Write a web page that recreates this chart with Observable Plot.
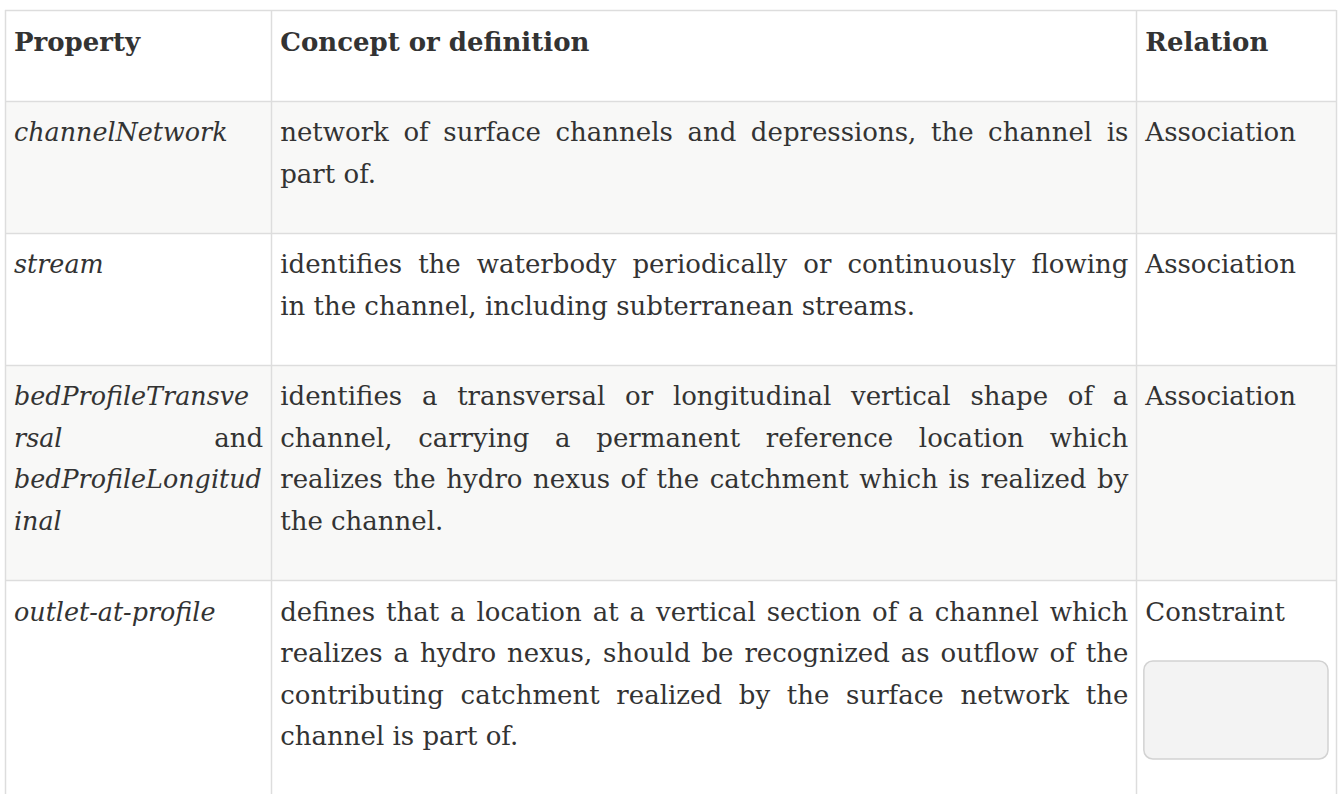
<!DOCTYPE html>
<html>
<head>
<meta charset="utf-8">
<script src="https://cdn.jsdelivr.net/npm/d3@7"></script>
<script src="https://cdn.jsdelivr.net/npm/@observablehq/plot@0.6"></script>
<style>
  html, body { margin: 0; padding: 0; background: #ffffff; overflow: hidden; }
  #chart svg { display: block; }
</style>
</head>
<body>
<div id="chart"></div>
<script>
// ---------- content ----------
const headers = ["Property", "Concept or definition", "Relation"];
const columnShares = [0.2, 0.65, 0.15];
// words wrapped in _..._ are italic; line breaks follow the reference
const properties = [
  ["_channelNetwork_"],
  ["_stream_"],
  ["_bedProfileTransve_", "_rsal_ and", "_bedProfileLongitud_", "_inal_"],
  ["_outlet-at-profile_"]
];
const definitions = [
  ["network of surface channels and depressions, the channel is", "part of."],
  ["identifies the waterbody periodically or continuously flowing", "in the channel, including subterranean streams."],
  ["identifies a transversal or longitudinal vertical shape of a", "channel, carrying a permanent reference location which", "realizes the hydro nexus of the catchment which is realized by", "the channel."],
  ["defines that a location at a vertical section of a channel which", "realizes a hydro nexus, should be recognized as outflow of the", "contributing catchment realized by the surface network the", "channel is part of."]
];
const relations = [["Association"], ["Association"], ["Association"], ["Constraint"]];
const relationPlaceholder = [false, false, false, true];

// ---------- layout ----------
const W = 1338, H = 794;
const X0 = 5, X1 = 1336, Y0 = 10;
const FONT = "DejaVu Serif";
const SIZE = 26, ITALIC_SIZE = 25.4, LINE = 41.6, FIRST = 40, BOTTOM = 50.5, PADL = 8.5, PADR = 8.5;
const INK = "#333333", GRID = "#dddddd", STRIPE = "#f8f8f7";
const sizeOf = style => style === "italic" ? ITALIC_SIZE : SIZE;

const ctx = document.createElement("canvas").getContext("2d");
function measure(text, style, weight) {
  ctx.font = `${style} ${weight} ${sizeOf(style)}px "${FONT}"`;
  return ctx.measureText(text).width;
}

const bounds = [X0];
columnShares.forEach(s => bounds.push(bounds[bounds.length - 1] + s * (X1 - X0)));
const colX = bounds.map(Math.round);

const words = [];
function layoutCell(lines, col, cellTop, weight) {
  const left = bounds[col] + PADL, right = bounds[col + 1] - PADR;
  lines.forEach((line, i) => {
    const toks = line.split(" ").map(t => {
      const it = /^_.*_$/.test(t);
      return {text: it ? t.slice(1, -1) : t, style: it ? "italic" : "normal"};
    });
    toks.forEach(t => t.w = measure(t.text, t.style, weight));
    const last = i === lines.length - 1;
    const total = d3.sum(toks, t => t.w);
    const space = measure(" ", "normal", weight);
    const gap = (!last && toks.length > 1) ? (right - left - total) / (toks.length - 1) : space;
    let x = left;
    const y = cellTop + FIRST + i * LINE;
    toks.forEach(t => { words.push({x, y, text: t.text, style: t.style, weight}); x += t.w + gap; });
  });
}

const rows = [];
let cursorY = Y0;
headers.forEach((h, c) => layoutCell([h], c, cursorY, "bold"));
rows.push({top: cursorY, bottom: cursorY + FIRST + BOTTOM, striped: false});
cursorY = rows[0].bottom;
properties.forEach((p, r) => {
  const n = Math.max(p.length, definitions[r].length, relations[r].length);
  layoutCell(p, 0, cursorY, "normal");
  layoutCell(definitions[r], 1, cursorY, "normal");
  layoutCell(relations[r], 2, cursorY, "normal");
  const bottom = cursorY + FIRST + (n - 1) * LINE + BOTTOM;
  rows.push({top: cursorY, bottom, striped: r % 2 === 0, placeholder: relationPlaceholder[r]});
  cursorY = bottom;
});
const tableBottom = cursorY;
const hLines = rows.map(d => Math.round(d.top)).concat([Math.round(tableBottom)]);

const boxes = rows.filter(d => d.placeholder).map(d => ({
  x1: bounds[2] + 7.5, x2: bounds[3] - 8,
  y1: d.top + FIRST + 41, y2: d.top + FIRST + 139
}));

const textMark = (style, weight) => Plot.text(
  words.filter(w => w.style === style && w.weight === weight),
  {x: "x", y: "y", text: "text", textAnchor: "start", lineAnchor: "bottom",
   fontFamily: FONT, fontSize: sizeOf(style), fontStyle: style, fontWeight: weight, fill: INK}
);

const chart = Plot.plot({
  width: W, height: H,
  margin: 0,
  x: {type: "identity", axis: null},
  y: {type: "identity", axis: null},
  style: {background: "#ffffff"},
  marks: [
    Plot.rect(rows.filter(d => d.striped), {x1: () => X0, x2: () => X1, y1: d => Math.round(d.top), y2: d => Math.round(d.bottom), fill: STRIPE}),
    Plot.ruleY(hLines, {y: d => d, x1: () => X0, x2: () => X1, stroke: GRID, strokeWidth: 1.5}),
    Plot.ruleX(colX, {x: d => d, y1: () => Y0, y2: () => tableBottom, stroke: GRID, strokeWidth: 1.5}),
    Plot.rect(boxes, {x1: "x1", x2: "x2", y1: "y1", y2: "y2", rx: 9, fill: "#f3f3f3", stroke: "#d2d2d2", strokeWidth: 1.5}),
    textMark("normal", "bold"),
    textMark("normal", "normal"),
    textMark("italic", "normal")
  ]
});
document.getElementById("chart").appendChild(chart);
</script>
</body>
</html>
